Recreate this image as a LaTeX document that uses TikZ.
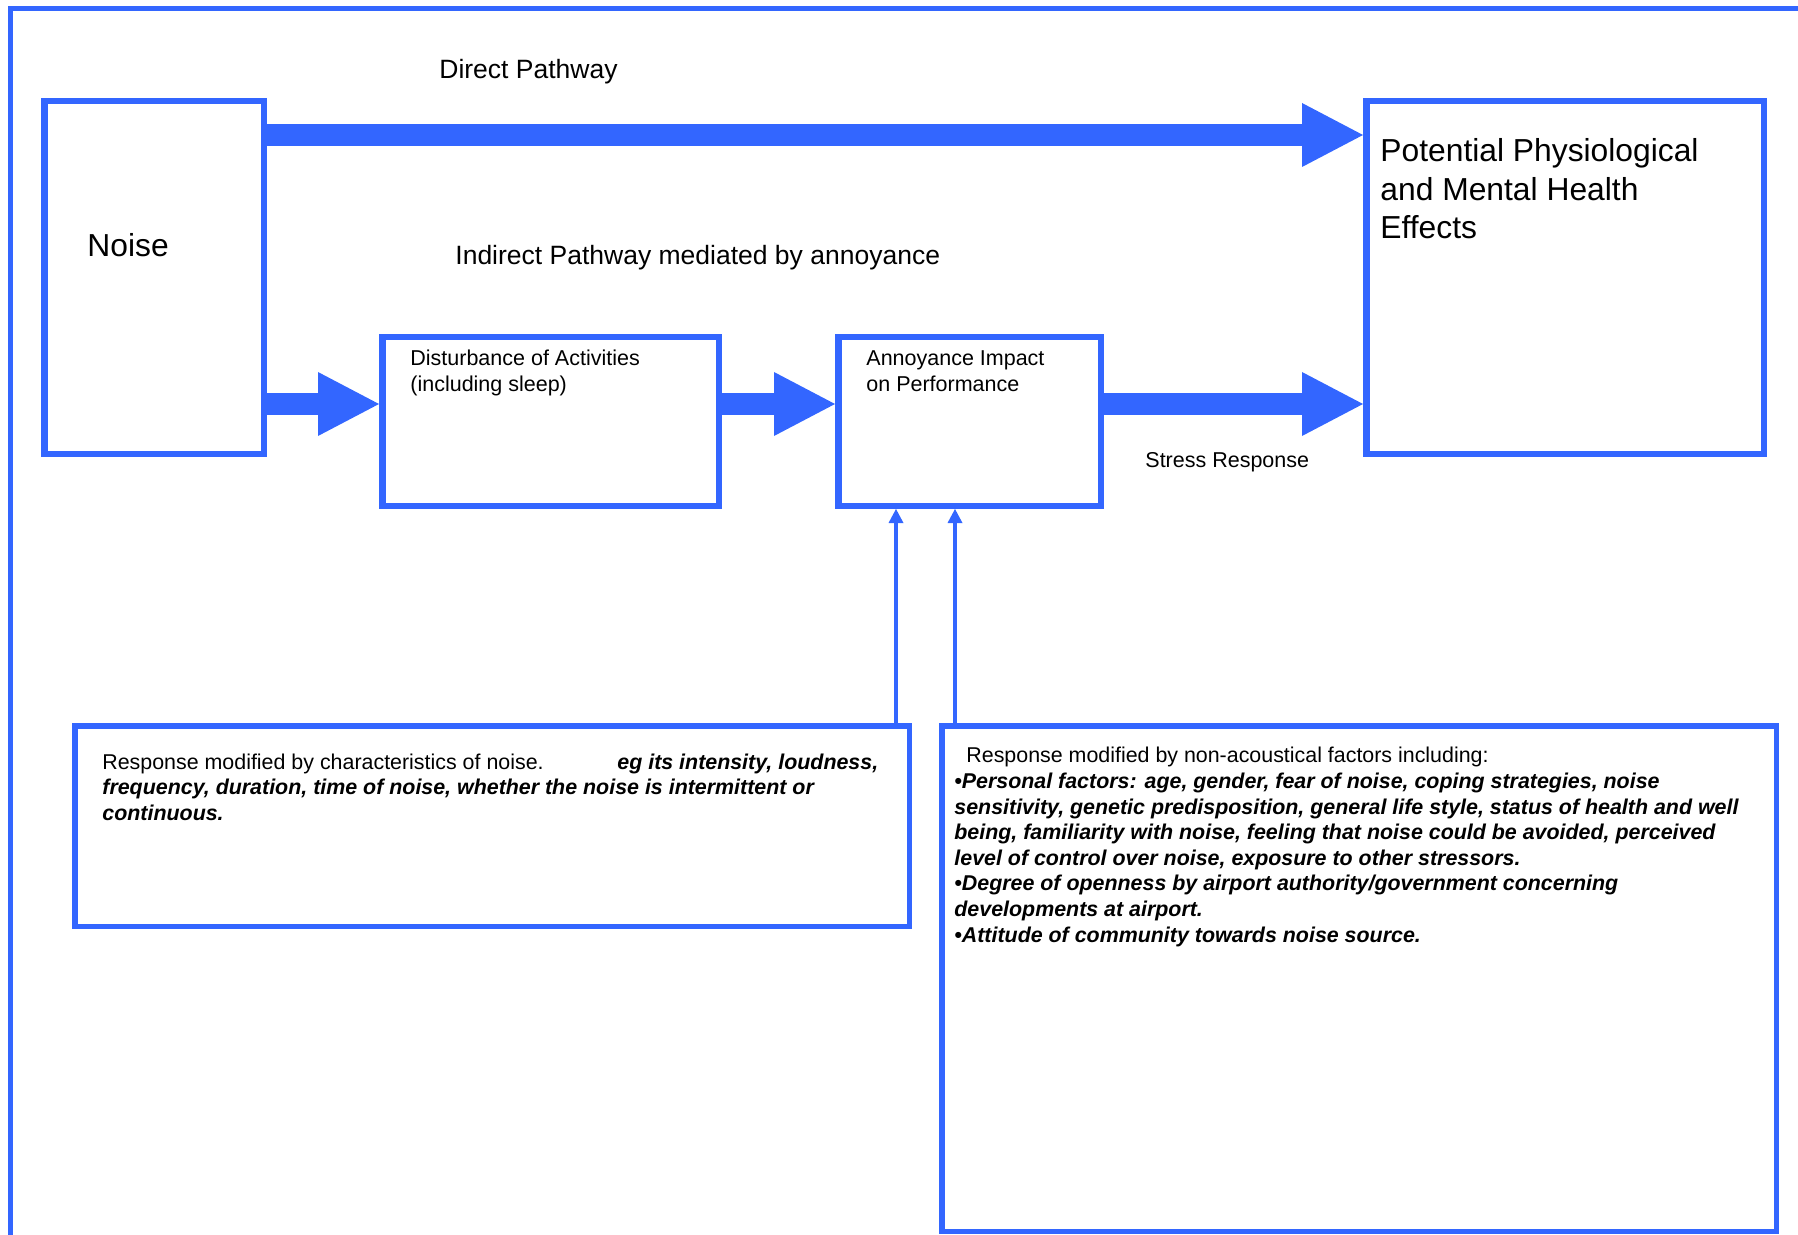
\documentclass[tikz,border=0pt]{standalone}
\usepackage{fontspec}
\setmainfont{Liberation Sans}
\usetikzlibrary{arrows.meta}
\definecolor{dblue}{RGB}{51,102,255}
\tikzset{
  box/.style={draw=dblue, line width=3.25pt, rectangle, anchor=north west, inner sep=0pt},
  lowbox/.style={draw=dblue, line width=2.75pt, rectangle, anchor=north west, inner sep=0pt},
  bigarrow/.style={draw=dblue, line width=11pt, -{Triangle[length=30.5pt,width=32pt,line width=0pt]}},
  thinarrow/.style={draw=dblue, line width=1.65pt, -{Triangle[length=7pt,width=7.5pt,line width=0pt]}},
  lbl/.style={anchor=base west, inner sep=0pt, align=left},
  bigfont/.style={font=\fontsize{15.9}{19.25}\selectfont},
  midfont/.style={font=\fontsize{13.25}{16}\selectfont},
  smallfont/.style={font=\fontsize{10.75}{13}\selectfont},
  tinyfont/.style={font=\fontsize{10.7}{12.6}\selectfont},
  listfont/.style={font=\fontsize{10.7}{12.8}\selectfont},
}
\newcommand{\bi}[1]{\textbf{\textit{#1}}}
\begin{document}
\begin{tikzpicture}[x=0.5pt,y=-0.5pt]
\useasboundingbox (0,0) rectangle (1798,1235);
\clip (0,0) rectangle (1798,1235);
% outer frame
\draw[dblue, line width=2.5pt] (10.8,8.3) rectangle (1900,1300);
% boxes
\node[box, minimum width=109.75pt, minimum height=176.25pt] (noise) at (41,98) {};
\node[box, minimum width=198.75pt, minimum height=176.25pt] (health) at (1363,98) {};
\node[box, minimum width=168.25pt, minimum height=84.25pt] (disturb) at (379,334) {};
\node[box, minimum width=131.25pt, minimum height=84.25pt] (annoy) at (835,334) {};
\node[lowbox, minimum width=417.25pt, minimum height=100.25pt] (acoustic) at (72,723) {};
\node[lowbox, minimum width=417.25pt, minimum height=252.75pt] (nonacoustic) at (939,723) {};
% thick arrows
\draw[bigarrow] (noise.east |- 0,135) -- (health.west |- 0,135);
\draw[bigarrow] (noise.east |- 0,404) -- (disturb.west |- 0,404);
\draw[bigarrow] (disturb.east |- 0,404) -- (annoy.west |- 0,404);
\draw[bigarrow] (annoy.east |- 0,404) -- (health.west |- 0,404);
% thin arrows
\draw[thinarrow] (acoustic.north -| 896,0) -- (annoy.south -| 896,0);
\draw[thinarrow] (nonacoustic.north -| 955,0) -- (annoy.south -| 955,0);
% texts (multi-line nodes anchored at the baseline of their last line)
\node[lbl, midfont] (direct) at (439,79) {Direct Pathway};
\node[lbl, midfont] (indirect) at (455,265) {Indirect Pathway mediated by annoyance};
\node[lbl, bigfont] (noisetxt) at (87,257) {Noise};
\node[lbl, bigfont] (healthtxt) at (1380,239) {Potential Physiological\\and Mental Health\\Effects};
\node[lbl, smallfont] (disturbtxt) at (410,392) {Disturbance of Activities\\(including sleep)};
\node[lbl, smallfont] (annoytxt) at (866,392) {Annoyance Impact\\on Performance};
\node[lbl, smallfont] (stress) at (1145,467) {Stress Response};
\node[lbl, tinyfont] (acoustictxt) at (102,820) {\makebox[257.5pt][l]{Response modified by characteristics of noise.}\bi{eg its intensity, loudness,}\\
\bi{frequency, duration, time of noise, whether the noise is intermittent or}\\
\bi{continuous.}};
\node[lbl, listfont] (nonacoustictxt) at (954,942) {\hspace*{6pt}Response modified by non-acoustical factors including:\\
\bi{•Personal factors: age, gender, fear of noise, coping strategies, noise}\\
\bi{sensitivity, genetic predisposition, general life style, status of health and well}\\
\bi{being, familiarity with noise, feeling that noise could be avoided, perceived}\\
\bi{level of control over noise, exposure to other stressors.}\\
\bi{•Degree of openness by airport authority/government concerning}\\
\bi{developments at airport.}\\
\bi{•Attitude of community towards noise source.}};
\end{tikzpicture}
\end{document}
